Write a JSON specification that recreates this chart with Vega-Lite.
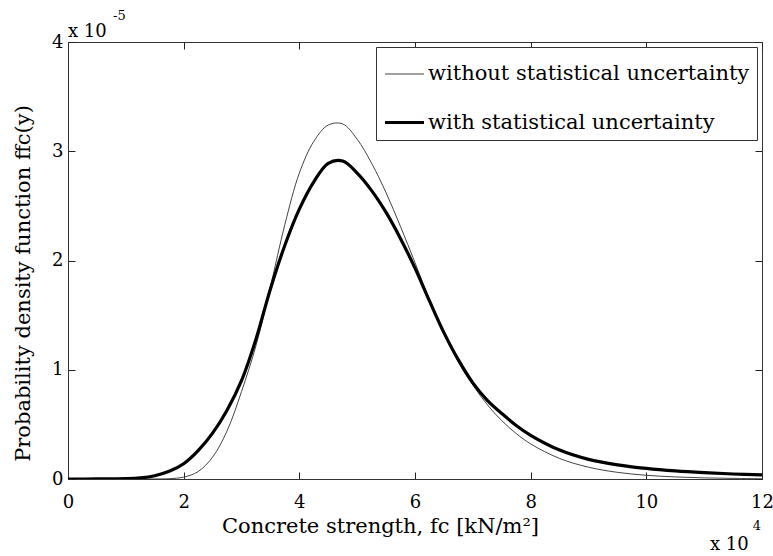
{
  "$schema": "https://vega.github.io/schema/vega-lite/v6.json",
  "width": 694,
  "height": 437,
  "autosize": {"type": "none"},
  "padding": {"left": 68, "top": 42, "right": 11, "bottom": 77},
  "background": "white",
  "config": {
    "view": {"stroke": "#333", "strokeWidth": 1, "fill": null},
    "font": "DejaVu Serif",
    "axis": {
      "labelFont": "DejaVu Serif", "labelFontSize": 18, "labelColor": "black",
      "titleFont": "DejaVu Serif", "titleFontSize": 21, "titleFontWeight": "normal", "titleColor": "black",
      "domainColor": "#333", "tickColor": "#222", "tickWidth": 1, "tickOpacity": 1, "grid": false,
      "labelFlush": false, "labelOverlap": false, "zindex": 2
    },
    "legend": {
      "labelFont": "DejaVu Serif", "labelFontSize": 21, "labelColor": "black"
    }
  },
  "data": {"values": [
    {"x": 0, "y": 0, "s": "without statistical uncertainty"},
    {"x": 0.5, "y": 0, "s": "without statistical uncertainty"},
    {"x": 1, "y": 0, "s": "without statistical uncertainty"},
    {"x": 1.5, "y": 0.0002, "s": "without statistical uncertainty"},
    {"x": 1.75, "y": 0.003, "s": "without statistical uncertainty"},
    {"x": 2, "y": 0.017, "s": "without statistical uncertainty"},
    {"x": 2.25, "y": 0.068, "s": "without statistical uncertainty"},
    {"x": 2.5, "y": 0.2, "s": "without statistical uncertainty"},
    {"x": 2.75, "y": 0.44, "s": "without statistical uncertainty"},
    {"x": 3, "y": 0.8, "s": "without statistical uncertainty"},
    {"x": 3.25, "y": 1.22, "s": "without statistical uncertainty"},
    {"x": 3.5, "y": 1.76, "s": "without statistical uncertainty"},
    {"x": 3.75, "y": 2.33, "s": "without statistical uncertainty"},
    {"x": 4, "y": 2.8, "s": "without statistical uncertainty"},
    {"x": 4.25, "y": 3.09, "s": "without statistical uncertainty"},
    {"x": 4.5, "y": 3.24, "s": "without statistical uncertainty"},
    {"x": 4.75, "y": 3.25, "s": "without statistical uncertainty"},
    {"x": 5, "y": 3.11, "s": "without statistical uncertainty"},
    {"x": 5.25, "y": 2.89, "s": "without statistical uncertainty"},
    {"x": 5.5, "y": 2.62, "s": "without statistical uncertainty"},
    {"x": 5.75, "y": 2.31, "s": "without statistical uncertainty"},
    {"x": 6, "y": 1.98, "s": "without statistical uncertainty"},
    {"x": 6.25, "y": 1.64, "s": "without statistical uncertainty"},
    {"x": 6.5, "y": 1.33, "s": "without statistical uncertainty"},
    {"x": 6.75, "y": 1.07, "s": "without statistical uncertainty"},
    {"x": 7, "y": 0.86, "s": "without statistical uncertainty"},
    {"x": 7.25, "y": 0.68, "s": "without statistical uncertainty"},
    {"x": 7.5, "y": 0.534, "s": "without statistical uncertainty"},
    {"x": 7.75, "y": 0.416, "s": "without statistical uncertainty"},
    {"x": 8, "y": 0.321, "s": "without statistical uncertainty"},
    {"x": 8.5, "y": 0.188, "s": "without statistical uncertainty"},
    {"x": 9, "y": 0.108, "s": "without statistical uncertainty"},
    {"x": 9.5, "y": 0.061, "s": "without statistical uncertainty"},
    {"x": 10, "y": 0.034, "s": "without statistical uncertainty"},
    {"x": 10.5, "y": 0.019, "s": "without statistical uncertainty"},
    {"x": 11, "y": 0.0103, "s": "without statistical uncertainty"},
    {"x": 11.5, "y": 0.0057, "s": "without statistical uncertainty"},
    {"x": 12, "y": 0.0031, "s": "without statistical uncertainty"},
    {"x": 0, "y": 0, "s": "with statistical uncertainty"},
    {"x": 0.5, "y": 0.0003, "s": "with statistical uncertainty"},
    {"x": 1, "y": 0.003, "s": "with statistical uncertainty"},
    {"x": 1.25, "y": 0.01, "s": "with statistical uncertainty"},
    {"x": 1.5, "y": 0.03, "s": "with statistical uncertainty"},
    {"x": 1.75, "y": 0.07, "s": "with statistical uncertainty"},
    {"x": 2, "y": 0.14, "s": "with statistical uncertainty"},
    {"x": 2.25, "y": 0.26, "s": "with statistical uncertainty"},
    {"x": 2.5, "y": 0.42, "s": "with statistical uncertainty"},
    {"x": 2.75, "y": 0.63, "s": "with statistical uncertainty"},
    {"x": 3, "y": 0.9, "s": "with statistical uncertainty"},
    {"x": 3.25, "y": 1.28, "s": "with statistical uncertainty"},
    {"x": 3.5, "y": 1.74, "s": "with statistical uncertainty"},
    {"x": 3.75, "y": 2.14, "s": "with statistical uncertainty"},
    {"x": 4, "y": 2.47, "s": "with statistical uncertainty"},
    {"x": 4.25, "y": 2.72, "s": "with statistical uncertainty"},
    {"x": 4.5, "y": 2.89, "s": "with statistical uncertainty"},
    {"x": 4.75, "y": 2.91, "s": "with statistical uncertainty"},
    {"x": 5, "y": 2.8, "s": "with statistical uncertainty"},
    {"x": 5.25, "y": 2.64, "s": "with statistical uncertainty"},
    {"x": 5.5, "y": 2.44, "s": "with statistical uncertainty"},
    {"x": 5.75, "y": 2.2, "s": "with statistical uncertainty"},
    {"x": 6, "y": 1.93, "s": "with statistical uncertainty"},
    {"x": 6.25, "y": 1.63, "s": "with statistical uncertainty"},
    {"x": 6.5, "y": 1.34, "s": "with statistical uncertainty"},
    {"x": 6.75, "y": 1.09, "s": "with statistical uncertainty"},
    {"x": 7, "y": 0.88, "s": "with statistical uncertainty"},
    {"x": 7.25, "y": 0.72, "s": "with statistical uncertainty"},
    {"x": 7.5, "y": 0.6, "s": "with statistical uncertainty"},
    {"x": 7.75, "y": 0.49, "s": "with statistical uncertainty"},
    {"x": 8, "y": 0.4, "s": "with statistical uncertainty"},
    {"x": 8.5, "y": 0.265, "s": "with statistical uncertainty"},
    {"x": 9, "y": 0.18, "s": "with statistical uncertainty"},
    {"x": 9.5, "y": 0.13, "s": "with statistical uncertainty"},
    {"x": 10, "y": 0.097, "s": "with statistical uncertainty"},
    {"x": 10.5, "y": 0.074, "s": "with statistical uncertainty"},
    {"x": 11, "y": 0.058, "s": "with statistical uncertainty"},
    {"x": 11.5, "y": 0.046, "s": "with statistical uncertainty"},
    {"x": 12, "y": 0.037, "s": "with statistical uncertainty"}
  ]},
  "layer": [
    {
      "mark": {"type": "line", "opacity": 0},
      "encoding": {
        "x": {"field": "x", "type": "quantitative",
              "scale": {"domain": [0, 12], "nice": false, "zero": false},
              "axis": {"orient": "top", "values": [0, 2, 4, 6, 8, 10, 12], "labels": false, "title": null,
                       "domain": false, "ticks": true, "offset": -7, "tickSize": 7}},
        "y": {"field": "y", "type": "quantitative",
              "scale": {"domain": [0, 4], "nice": false, "zero": false},
              "axis": {"orient": "right", "values": [0, 1, 2, 3, 4], "labels": false, "title": null,
                       "domain": false, "ticks": true, "offset": -7, "tickSize": 7}},
        "detail": {"field": "s"}
      }
    },
    {
      "mark": {"type": "line", "opacity": 0},
      "encoding": {
        "x": {"field": "x", "type": "quantitative",
              "scale": {"domain": [0, 12], "nice": false, "zero": false},
              "axis": {"orient": "bottom", "values": [0, 2, 4, 6, 8, 10, 12], "labels": false, "title": null,
                       "domain": false, "ticks": true, "offset": -7, "tickSize": 7}},
        "y": {"field": "y", "type": "quantitative",
              "scale": {"domain": [0, 4], "nice": false, "zero": false},
              "axis": {"orient": "left", "values": [0, 1, 2, 3, 4], "labels": false, "title": null,
                       "domain": false, "ticks": true, "offset": -7, "tickSize": 7}},
        "detail": {"field": "s"}
      }
    },
    {
      "mark": {"type": "line", "interpolate": "catmull-rom", "clip": true},
      "encoding": {
        "x": {"field": "x", "type": "quantitative",
              "scale": {"domain": [0, 12], "nice": false, "zero": false},
              "axis": {"orient": "bottom", "values": [0, 2, 4, 6, 8, 10, 12], "format": "d", "ticks": true, "tickSize": 0,
                       "labelPadding": 14, "title": "Concrete strength,  fc [kN/m²]", "titlePadding": 4, "titleX": 312}},
        "y": {"field": "y", "type": "quantitative",
              "scale": {"domain": [0, 4], "nice": false, "zero": false},
              "axis": {"orient": "left", "values": [0, 1, 2, 3, 4], "format": "d", "ticks": true, "tickSize": 0,
                       "labelPadding": 5, "title": "Probability density function ffc(y)", "titlePadding": 18, "titleY": 241}},
        "color": {"field": "s", "type": "nominal",
                  "scale": {"domain": ["without statistical uncertainty", "with statistical uncertainty"], "range": ["#444444", "#000000"]},
                  "legend": {"title": null, "orient": "top-right", "offset": 5, "symbolType": "stroke", "symbolSize": 1521,
                             "strokeColor": "#333", "fillColor": "white", "padding": 7, "rowPadding": 17, "labelOffset": 2, "labelLimit": 500}},
        "strokeWidth": {"field": "s", "type": "nominal",
                  "scale": {"domain": ["without statistical uncertainty", "with statistical uncertainty"], "range": [1, 3.2]},
                  "legend": {"title": null, "orient": "top-right", "offset": 5, "symbolType": "stroke", "symbolSize": 1521,
                             "strokeColor": "#333", "fillColor": "white", "padding": 7, "rowPadding": 17, "labelOffset": 2, "labelLimit": 500}}
      }
    },
    {
      "data": {"values": [
        {"label": "x 10", "px": 0, "py": 4.05},
        {"label": "x 10", "px": 11.1, "py": -0.65}
      ]},
      "mark": {"type": "text", "align": "left", "baseline": "alphabetic", "fontSize": 18, "font": "DejaVu Serif"},
      "encoding": {
        "text": {"field": "label"},
        "x": {"field": "px", "type": "quantitative", "scale": {"domain": [0, 12], "nice": false, "zero": false}, "axis": null},
        "y": {"field": "py", "type": "quantitative", "scale": {"domain": [0, 4], "nice": false, "zero": false}, "axis": null}
      }
    },
    {
      "data": {"values": [
        {"label": "-5", "px": 0.78, "py": 4.2},
        {"label": "4", "px": 11.84, "py": -0.47}
      ]},
      "mark": {"type": "text", "align": "left", "baseline": "alphabetic", "fontSize": 13, "font": "DejaVu Serif"},
      "encoding": {
        "text": {"field": "label"},
        "x": {"field": "px", "type": "quantitative", "scale": {"domain": [0, 12], "nice": false, "zero": false}, "axis": null},
        "y": {"field": "py", "type": "quantitative", "scale": {"domain": [0, 4], "nice": false, "zero": false}, "axis": null}
      }
    }
  ],
  "resolve": {"axis": {"x": "independent", "y": "independent"}}
}
